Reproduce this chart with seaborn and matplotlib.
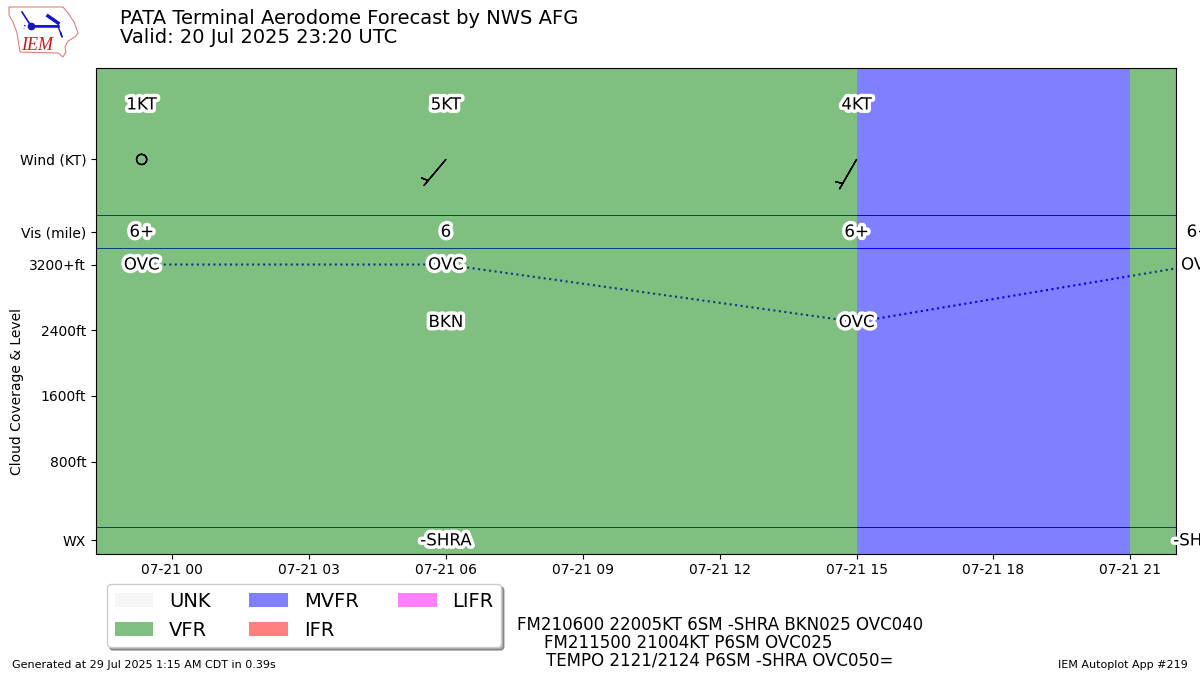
"""Terminal aerodrome forecast timeline, IEM autoplot look."""
from datetime import datetime

import matplotlib
matplotlib.use("Agg")
import matplotlib.dates as mdates
import matplotlib.patches as mpatches
import matplotlib.patheffects as PathEffects
import matplotlib.pyplot as plt
import numpy as np
import pandas as pd
import seaborn as sns

FLIGHT_COLORS = {
    "UNK": "#EEEEEE",
    "VFR": "green",
    "MVFR": "blue",
    "IFR": "red",
    "LIFR": "magenta",
}

fcst_times = [
    datetime(2025, 7, 20, 23, 20),
    datetime(2025, 7, 21, 6, 0),
    datetime(2025, 7, 21, 15, 0),
    datetime(2025, 7, 21, 22, 30),
]
wind_speed = [1, 5, 4]
wind_dir = [220, 220, 210]
vis_labels = ["6+", "6", "6+", "6+"]
cloud_line_levels = [3200, 3200, 2500, 3200]

cloud_times = [fcst_times[0], fcst_times[1], fcst_times[1], fcst_times[2], fcst_times[3]]
cloud_levels = [3200, 3200, 2500, 2500, 3200]
cloud_cover = ["OVC", "OVC", "BKN", "OVC", "OVC"]

wx_times = [fcst_times[1], fcst_times[3]]
wx_labels = ["-SHRA", "-SHRA"]

span_starts = [datetime(2025, 7, 20, 22, 20), datetime(2025, 7, 21, 15), datetime(2025, 7, 21, 21)]
span_ends = [datetime(2025, 7, 21, 15), datetime(2025, 7, 21, 21), datetime(2025, 7, 21, 23, 30)]
span_cats = ["VFR", "MVFR", "VFR"]

y_ticks = [-160, 800, 1600, 2400, 3200, 3600, 4480]
y_labels = ["WX", "800ft", "1600ft", "2400ft", "3200+ft", "Vis (mile)", "Wind (KT)"]
band_edges = [0, 3400, 3800]

taf_text = (
    "FM210600 22005KT 6SM -SHRA BKN025 OVC040\n"
    "FM211500 21004KT P6SM OVC025            \n"
    "TEMPO 2121/2124 P6SM -SHRA OVC050="
)

STROKE = [PathEffects.withStroke(linewidth=5, foreground="white")]


def draw_logo(fig):
    # rough hand copy of the small IEM map logo, in pixel coordinates
    lax = fig.add_axes([0, 0, 1, 1], zorder=-1)
    lax.set_xlim(0, 1200)
    lax.set_ylim(675, 0)
    lax.axis("off")
    outline = [(9, 7), (63, 7), (68, 13), (74, 22), (78, 33), (75, 37), (68, 41), (65, 47),
               (66, 52), (63, 57), (58, 53), (20, 52), (17, 33), (13, 22), (9, 15)]
    lax.add_patch(mpatches.Polygon(outline, closed=True, fc="white", ec="#e08080", lw=0.8))
    lax.plot([22, 31, 58], [12, 26, 26], color="#1414c8", lw=1.2)
    lax.plot([31, 58], [26, 26], color="#1414c8", lw=1.8)
    lax.plot(31, 26, "o", color="#1414c8", ms=4.5)
    lax.plot([48, 58], [16, 23], color="#1414c8", lw=2.5)
    lax.plot([58, 62, 61], [26, 37, 33], color="#1414c8", lw=1)
    lax.plot([25, 24], [25, 29], color="#1414c8", lw=1, ls=":")
    lax.text(37, 45, "IEM", color="#d01818", fontsize=13, style="italic",
             family="Liberation Serif", ha="center", va="center")


def main():
    fig = plt.figure(figsize=(12, 6.75), dpi=100)
    ax = fig.add_axes([0.08, 0.18, 0.9, 0.72])
    draw_logo(fig)

    fig.text(0.1, 0.93, "PATA Terminal Aerodome Forecast by NWS AFG\nValid: 20 Jul 2025 23:20 UTC",
             fontsize=14, ha="left", va="bottom", linespacing=1.0)

    for start, end, cat in zip(span_starts, span_ends, span_cats):
        ax.axvspan(mdates.date2num(start), mdates.date2num(end), color=FLIGHT_COLORS[cat],
                   alpha=0.5, lw=0, zorder=2)

    for level in band_edges:
        ax.axhline(level, color="blue", lw=0.7, zorder=1)

    # the dotted ceiling line sits under the flight category bands
    df = pd.DataFrame({"time": fcst_times, "level": cloud_line_levels})
    sns.lineplot(data=df, x="time", y="level", color="blue", linestyle=":", linewidth=1.5,
                 estimator=None, sort=False, zorder=1, ax=ax)

    xs = mdates.date2num(fcst_times[:3])
    rad = np.deg2rad(wind_dir)
    u = -np.array(wind_speed) * np.sin(rad)
    v = -np.array(wind_speed) * np.cos(rad)
    ax.barbs(xs, [4480] * 3, u, v, zorder=5)
    for x, spd in zip(fcst_times[:3], wind_speed):
        ax.text(x, 5150, f"{spd}KT", ha="center", va="center", fontsize=12,
                path_effects=STROKE, zorder=6)

    for x, lab in zip(fcst_times, vis_labels):
        ax.text(x, 3600, lab, ha="center", va="center", fontsize=12, path_effects=STROKE,
                zorder=6, clip_on=False)
    for x, lev, lab in zip(cloud_times, cloud_levels, cloud_cover):
        ax.text(x, lev, lab, ha="center", va="center", fontsize=12, path_effects=STROKE,
                zorder=6, clip_on=False)
    for x, lab in zip(wx_times, wx_labels):
        ax.text(x, -160, lab, ha="center", va="center", fontsize=12, path_effects=STROKE,
                zorder=6, clip_on=False)

    ax.set_xlim(mdates.date2num(span_starts[0]), mdates.date2num(datetime(2025, 7, 21, 22, 0)))
    ax.set_ylim(-320, 5600)
    ax.xaxis.set_major_locator(mdates.HourLocator(byhour=range(0, 24, 3)))
    ax.xaxis.set_major_formatter(mdates.DateFormatter("%m-%d %H"))
    ax.set_xlabel("")
    ax.set_yticks(y_ticks)
    ax.set_yticklabels(y_labels)
    ax.set_ylabel("Cloud Coverage & Level")
    ax.yaxis.set_label_coords(-0.067, 0.333)

    handles = [mpatches.Patch(color=c, alpha=0.5, lw=0, label=k) for k, c in FLIGHT_COLORS.items()]
    ax.legend(handles=handles, ncol=3, fontsize=14, loc=(0.01, -0.193), fancybox=True, shadow=True)

    fig.text(0.6, 0.01 + 0.0, "", fontsize=1)
    fig.text(0.6, 0.008, taf_text, ha="center", va="bottom", fontsize=12, linespacing=1.0)
    fig.text(0.01, 0.01, "Generated at 29 Jul 2025 1:15 AM CDT in 0.39s", fontsize=8)
    fig.text(0.99, 0.01, "IEM Autoplot App #219", fontsize=8, ha="right")

    fig.savefig("out.png", dpi=100)
    plt.close(fig)


if __name__ == "__main__":
    main()
